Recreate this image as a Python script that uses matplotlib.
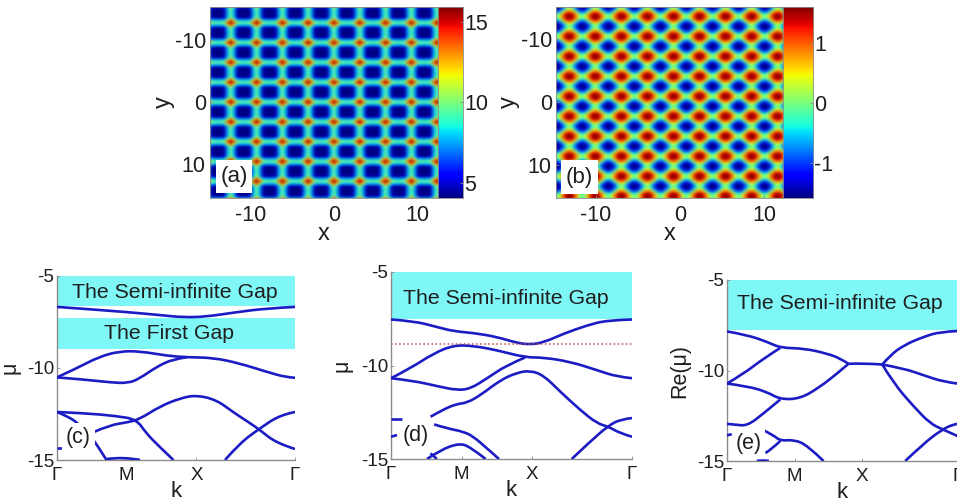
import numpy as np
import matplotlib
matplotlib.use('Agg')
import matplotlib.pyplot as plt
from matplotlib.patches import Rectangle, PathPatch
from matplotlib.path import Path

plt.rcParams['font.family'] = ['Liberation Sans', 'DejaVu Sans']
plt.rcParams['axes.unicode_minus'] = False

W, H = 957, 504

# one quadrant of the repeating cell of each map
a_quadrant = [[16.0, 14.0, 10.4, 9.7, 9.5],
              [14.0, 11.0, 7.9, 7.6, 7.5],
              [10.4, 7.9, 5.0, 4.5, 4.4],
              [9.7, 7.6, 4.5, 4.1, 4.1],
              [9.5, 7.5, 4.4, 4.1, 4.1]]
b_quadrant = [[1.6, 1.5, 1.0, 0.4, 0.0],
              [1.5, 1.35, 0.75, 0.0, -0.4],
              [1.0, 0.75, 0.0, -0.75, -1.0],
              [0.4, 0.0, -0.75, -1.35, -1.5],
              [0.0, -0.4, -1.0, -1.5, -1.6]]
map_ticks = [-10, 0, 10]
a_cbar_ticks = [5, 10, 15]
b_cbar_ticks = [-1, 0, 1]

k_ticks = [0, 1, 2, 3.414]
k_labels = ['Γ', 'M', 'X', 'Γ']
mu_ticks = [-15, -10, -5]

# panel c bands
c1_k = [0, .37, 1.0, 1.47, 1.81, 2.14, 2.53, 3.0, 3.414]
c1_mu = [-6.68, -6.78, -6.96, -7.12, -7.25, -7.21, -6.99, -6.76, -6.68]
c2_k = [0, .28, .61, .90, 1.19, 1.57, 1.86, 2.24, 2.62, 3.0, 3.29, 3.414]
c2_mu = [-10.51, -10.02, -9.38, -9.09, -9.09, -9.33, -9.42, -9.44, -9.75, -10.2, -10.51, -10.53]
c3_k = [0, .37, .76, 1.02, 1.19, 1.43, 1.67, 1.86]
c3_mu = [-10.51, -10.62, -10.78, -10.83, -10.56, -9.93, -9.51, -9.42]
c4_k = [0, .42, .85, 1.14, 1.28, 1.47, 1.67]
c4_mu = [-12.39, -12.46, -12.61, -12.79, -13.55, -14.28, -15.0]
c5_k = [.54, .76, 1.02, 1.19, 1.47, 1.76, 2.0, 2.29, 2.53, 2.77, 2.91, 3.15, 3.414]
c5_mu = [-13.46, -13.1, -12.95, -12.77, -12.1, -11.65, -11.47, -11.74, -12.41, -13.0, -13.37, -14.09, -14.4]
c6_k = [2.41, 2.62, 2.91, 3.2, 3.414]
c6_mu = [-15.0, -14.09, -13.28, -12.55, -12.39]
c7_k = [0, .16, .30, .47, .59, .71]
c7_mu = [-12.39, -12.64, -13.0, -13.64, -14.27, -15.0]
c8_k = [0, .07]
c8_mu = [-14.37, -14.37]
c9_k = [.71, .95, 1.19]
c9_mu = [-14.95, -14.82, -15.0]

# panel d bands
d1_k = [0, .32, .65, .89, 1.17, 1.50, 1.78, 1.97, 2.16, 2.45, 2.78, 3.06, 3.414]
d1_mu = [-7.54, -7.62, -7.94, -8.17, -8.26, -8.47, -8.79, -8.88, -8.77, -8.29, -7.85, -7.58, -7.54]
d2_k = [0, .27, .60, .89, 1.17, 1.50, 1.90, 2.16, 2.54, 2.92, 3.20, 3.414]
d2_mu = [-10.68, -10.16, -9.36, -8.91, -8.95, -9.18, -9.57, -9.57, -9.80, -10.25, -10.6, -10.68]
d3_k = [0, .32, .65, .93, 1.12, 1.36, 1.64, 1.90]
d3_mu = [-10.68, -10.82, -11.1, -11.32, -11.25, -10.69, -9.98, -9.57]
d4_k = [.56, .75, .93, 1.08, 1.27, 1.55, 1.78, 1.97, 2.16, 2.40, 2.68, 2.92, 3.08, 3.25, 3.414]
d4_mu = [-12.74, -12.33, -12.06, -11.99, -11.58, -10.78, -10.39, -10.27, -10.52, -11.41, -12.38, -13.1, -13.27, -13.63, -13.81]
d5_k = [2.56, 2.82, 3.08, 3.25, 3.414]
d5_mu = [-15.0, -14.07, -13.22, -12.88, -12.81]
d6_k = [0, .16]
d6_mu = [-12.85, -12.85]
d7_k = [0, .085]
d7_mu = [-13.81, -13.72]
d8_k = [.61, .79, 1.03, 1.17, 1.36, 1.53]
d8_mu = [-13.15, -13.36, -13.54, -13.81, -14.43, -15.0]
d9_k = [.51, .70, .96, 1.12, 1.34]
d9_mu = [-15.0, -14.52, -14.16, -14.34, -15.0]
d10_k = [.56, .65]
d10_mu = [-14.7, -15.0]
d_dotted_mu = -8.83

# panel e bands
e1_k = [0, .30, .59, .79, 1.14, 1.48, 1.68, 1.80]
e1_mu = [-7.84, -8.04, -8.41, -8.75, -8.78, -9.06, -9.34, -9.63]
e2_k = [0, .25, .54, .79]
e2_mu = [-10.72, -10.17, -9.34, -8.75]
e3_k = [0, .30, .59, .79, 1.09, 1.38, 1.63, 1.80]
e3_mu = [-10.72, -10.87, -11.18, -11.6, -11.55, -10.9, -10.17, -9.63]
e4_k = [1.80, 2.02, 2.30]
e4_mu = [-9.63, -9.59, -9.67]
e5_k = [2.30, 2.42, 2.62, 2.91, 3.16, 3.414]
e5_mu = [-9.67, -9.15, -8.6, -8.14, -7.86, -7.82]
e6_k = [2.30, 2.62, 2.91, 3.21, 3.414]
e6_mu = [-9.67, -9.89, -10.26, -10.63, -10.72]
e7_k = [2.30, 2.47, 2.77, 3.01, 3.19, 3.414]
e7_mu = [-9.67, -10.72, -12.01, -12.93, -13.25, -13.62]
e8_k = [2.64, 2.91, 3.19, 3.36, 3.414]
e8_mu = [-15.0, -14.04, -13.25, -12.97, -12.95]
e9_k = [.79, .54, .30, .12, 0]
e9_mu = [-11.6, -12.38, -13.06, -12.99, -12.95]
e10_k = [0, .07]
e10_mu = [-13.58, -13.52]
e11_k = [.54, .69, .79, .99, 1.19, 1.43]
e11_mu = [-13.3, -13.58, -13.89, -13.82, -14.13, -15.0]
e12_k = [.79, .67, .57]
e12_mu = [-13.89, -14.32, -14.56]
e13_k = [.44, .54, .62]
e13_mu = [-15.0, -14.94, -15.0]

BLUE = '#1c1cc4'
CYAN = '#7ff7f7'
GREY = '#8c8c8c'
TEXT = '#1e1e1e'

fig = plt.figure(figsize=(W / 100, H / 100), dpi=100)


def px_axes(left, top, right, bottom):
    return fig.add_axes([left / W, 1 - bottom / H, (right - left) / W, (bottom - top) / H])


def px_label(left, top, right, bottom, text, size):
    fig.add_artist(Rectangle((left / W, 1 - bottom / H), (right - left) / W, (bottom - top) / H,
                             transform=fig.transFigure, fc='white', ec='none', zorder=5))
    fig.text((left + right) / 2 / W, 1 - (top + bottom) / 2 / H, text, fontsize=size, color=TEXT,
             ha='center', va='center', zorder=6)


def draw_map(box, cbar_box, quadrant, x0, y0, xper, yper, xlim, ylim, vlim, cbar_ticks, ylabel_x):
    ax = px_axes(*box)
    mirror = [0, 1, 2, 3, 4, 3, 2, 1]
    cell = np.array(quadrant)[np.ix_(mirror, mirror)]
    n = cell.shape[0]
    field = np.tile(cell, (14, 14))
    dx, dy = xper / n, yper / n
    xs = x0 - 7 * xper
    ys = y0 - 7 * yper
    extent = [xs - dx / 2, xs + 14 * xper - dx / 2, ys + 14 * yper - dy / 2, ys - dy / 2]
    ax.imshow(field, cmap='jet', vmin=vlim[0], vmax=vlim[1], extent=extent,
              interpolation='bicubic', aspect='auto')
    ax.set_xlim(xlim)
    ax.set_ylim(ylim)
    ax.set_xticks(map_ticks)
    ax.set_yticks(map_ticks)
    ax.tick_params(direction='in', length=2, width=0.6, labelsize=15.5, labelcolor=TEXT, color=GREY)
    ax.tick_params(axis='x', pad=5)
    ax.tick_params(axis='y', pad=3)
    ax.set_xlabel('x', fontsize=17, color=TEXT, labelpad=-2)
    ax.set_ylabel('y', fontsize=17, color=TEXT)
    ax.yaxis.set_label_coords((ylabel_x - box[0]) / (box[2] - box[0]), 0.5)
    for s in ax.spines.values():
        s.set_color(GREY)
        s.set_linewidth(0.6)

    cax = px_axes(*cbar_box)
    grad = np.linspace(vlim[1], vlim[0], 256).reshape(-1, 1)
    cax.imshow(grad, cmap='jet', vmin=vlim[0], vmax=vlim[1], aspect='auto',
               extent=[0, 1, vlim[0], vlim[1]])
    cax.set_xticks([])
    cax.yaxis.tick_right()
    cax.set_yticks(cbar_ticks)
    cax.tick_params(direction='in', length=2, width=0.6, labelsize=15.5, pad=1,
                    labelcolor=TEXT, color=GREY)
    for s in cax.spines.values():
        s.set_color(GREY)
        s.set_linewidth(0.6)
    return ax


def smooth_path(k, mu):
    # quadratic curve through the midpoints, the read points are the control points
    pts = np.column_stack([k, mu])
    if len(pts) < 3:
        return Path(pts)
    verts = [pts[0]]
    codes = [Path.MOVETO]
    for i in range(1, len(pts) - 1):
        end = pts[i + 1] if i == len(pts) - 2 else (pts[i] + pts[i + 1]) / 2
        verts += [pts[i], end]
        codes += [Path.CURVE3, Path.CURVE3]
    return Path(verts, codes)


def draw_bands(box, bands, ylabel, ylabel_x):
    ax = px_axes(*box)
    for k, mu in bands:
        ax.add_patch(PathPatch(smooth_path(k, mu), fc='none', ec=BLUE, lw=1.9, zorder=3))
    ax.set_xlim(0, 3.414)
    ax.set_ylim(-15, -5)
    ax.set_xticks(k_ticks)
    ax.set_xticklabels(k_labels)
    ax.set_yticks(mu_ticks)
    ax.tick_params(direction='in', length=2, width=0.6, labelsize=13.5, labelcolor=TEXT, color=GREY)
    ax.tick_params(axis='x', pad=5)
    ax.tick_params(axis='y', pad=2)
    ax.set_xlabel('k', fontsize=16, color=TEXT, labelpad=-2)
    ax.set_ylabel(ylabel, fontsize=15.5, color=TEXT)
    ax.yaxis.set_label_coords((ylabel_x - box[0]) / (box[2] - box[0]), 0.5)
    ax.spines['top'].set_visible(False)
    ax.spines['right'].set_visible(False)
    ax.spines['left'].set_color(GREY)
    ax.spines['bottom'].set_color(GREY)
    ax.spines['left'].set_linewidth(1.0)
    ax.spines['bottom'].set_linewidth(1.0)
    return ax


def gap(ax, top, bottom, label, label_k, label_mu):
    ax.axhspan(bottom, top, color=CYAN, lw=0, zorder=1)
    ax.text(label_k, label_mu, label, fontsize=15.3, color=TEXT,
            ha='center', va='center', zorder=4)


draw_map((210, 7, 438, 198), (438, 7, 463, 198), a_quadrant, 0.0, 0.0, 3.1, 3.18,
         (-14.9, 12.5), (15.4, -15.25), (4.05, 15.95), a_cbar_ticks, 175)
draw_map((556, 7, 783, 198), (783, 7, 813, 198), b_quadrant, -0.79, -0.85, 3.09, 3.18,
         (-14.73, 12.2), (15.33, -15.07), (-1.58, 1.6), b_cbar_ticks, 520)
px_label(216, 160, 252, 193, '(a)', 16)
px_label(561, 160, 598, 194, '(b)', 16)

c_bands = [(c1_k, c1_mu), (c2_k, c2_mu), (c3_k, c3_mu), (c4_k, c4_mu), (c5_k, c5_mu),
           (c6_k, c6_mu), (c7_k, c7_mu), (c8_k, c8_mu), (c9_k, c9_mu)]
ax_c = draw_bands((57, 276, 295, 460), c_bands, 'μ', 20)
gap(ax_c, -5, -6.63, 'The Semi-infinite Gap', 1.69, -5.87)
gap(ax_c, -7.3, -8.99, 'The First Gap', 1.6, -8.15)
px_label(62, 423, 95, 453, '(c)', 15.5)

d_bands = [(d1_k, d1_mu), (d2_k, d2_mu), (d3_k, d3_mu), (d4_k, d4_mu), (d5_k, d5_mu),
           (d6_k, d6_mu), (d7_k, d7_mu), (d8_k, d8_mu), (d9_k, d9_mu), (d10_k, d10_mu)]
ax_d = draw_bands((391, 272, 632, 459), d_bands, 'μ', 353)
gap(ax_d, -5, -7.51, 'The Semi-infinite Gap', 1.625, -6.42)
ax_d.axhline(d_dotted_mu, color='#c04848', lw=1.1, ls=':', zorder=4)
px_label(398, 421, 433, 451, '(d)', 15.5)

e_bands = [(e1_k, e1_mu), (e2_k, e2_mu), (e3_k, e3_mu), (e4_k, e4_mu), (e5_k, e5_mu), (e6_k, e6_mu),
           (e7_k, e7_mu), (e8_k, e8_mu), (e9_k, e9_mu), (e10_k, e10_mu), (e11_k, e11_mu),
           (e12_k, e12_mu), (e13_k, e13_mu)]
ax_e = draw_bands((727, 280, 957.5, 461), e_bands, 'Re(μ)', 690)
gap(ax_e, -5, -7.77, 'The Semi-infinite Gap', 1.67, -6.29)
px_label(732, 429, 765, 458, '(e)', 15.5)

fig.savefig('out.png', dpi=100)
